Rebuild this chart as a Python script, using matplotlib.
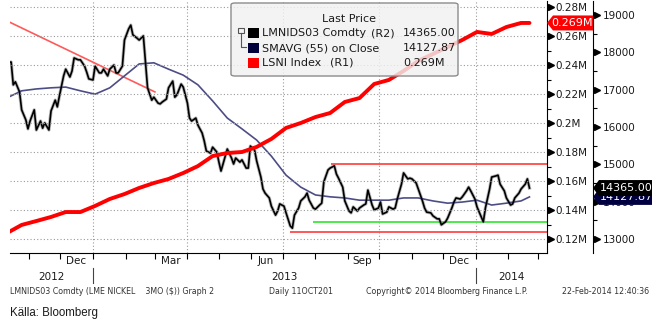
import numpy as np
import pandas as pd
import matplotlib
matplotlib.use("Agg")
import matplotlib.pyplot as plt
import matplotlib.dates as mdates
import matplotlib.transforms as mtrans
from matplotlib.ticker import MultipleLocator
from matplotlib.patches import FancyBboxPatch, Rectangle, Polygon
from matplotlib.lines import Line2D

# ---------------- data ----------------
price_start = "2012-10-11"          # daily series, sampled every 2 business days
price = [17740, 17740, 17130, 17210, 16940, 16460, 16190, 15950, 16160, 16460,
         15920, 16160, 15970, 16110, 15920, 16430, 16720, 16540, 16830, 17370,
         17550, 17340, 17500, 17850, 17800, 17800, 17630, 17470, 17290, 17260,
         17630, 17450, 17450, 17550, 17370, 17550, 17660, 17450, 17450, 17630,
         18330, 18630, 18730, 18470, 18380, 18330, 18440, 17740, 17050, 16720,
         16800, 16640, 16620, 16670, 16750, 17050, 17230, 16800, 16860, 17150,
         17070, 16640, 16240, 16160, 16240, 16050, 15840, 15630, 15360, 15300,
         15460, 15330, 15060, 14820, 15220, 15410, 15170, 15010, 15170, 15060,
         15120, 14900, 14900, 15490, 15380, 15090, 14660, 14340, 14230, 14100,
         13880, 13640, 13750, 13940, 13880, 13700, 13350, 13290, 13640, 13830,
         14020, 14130, 14230, 14040, 13830, 13800, 13910, 13960, 14530, 14850,
         14900, 14960, 14740, 14630, 14390, 14020, 13750, 13700, 13860, 13750,
         13830, 13910, 13940, 14310, 13910, 13780, 13830, 13990, 13670, 13720,
         13860, 13800, 13830, 14070, 14470, 14770, 14610, 14630, 14610, 14500,
         14340, 14020, 13830, 13720, 13700, 13620, 13540, 13540, 13380, 13460,
         13560, 13830, 13990, 14100, 14070, 14130, 14290, 14390, 14290, 14070,
         13860, 13590, 13460, 13830, 14340, 14660, 14690, 14710, 14470, 14290,
         14100, 13910, 13940, 14100, 14230, 14340, 14470, 14610, 14365.00]

# SMAVG(55) and LSNI stocks, sampled every 10 business days + last day
sma = [16780, 16970, 17020, 17050, 17070, 16970, 16880, 17050, 17370, 17690,
       17720, 17550, 17390, 17130, 16700, 16240, 15950, 15650, 15220, 14710,
       14390, 14180, 14130, 14100, 14040, 14040, 14040, 14100, 14100, 14020,
       13960, 13990, 14040, 13910, 13960, 14020, 14127.87]
lsni = [124100, 129700, 132400, 135200, 138600, 138600, 142800, 147600, 151000, 155200,
        158600, 161400, 165500, 170300, 177200, 179300, 180000, 183500, 189000, 196600,
        200000, 204100, 206900, 214500, 217200, 226900, 229700, 235900, 242800, 247600,
        252400, 257300, 262800, 261400, 266200, 269000, 269000]

trend_dates = ["2012-10-12", "2013-03-01"]
trend_vals = [18830, 16940]
hline_upper = ("2013-08-16", 15020)
hline_green = ("2013-07-30", 13450)
hline_lower = ("2013-07-08", 13200)

r2_ticks = [13000, 14000, 15000, 16000, 17000, 18000, 19000]
r1_ticks = [120000, 140000, 160000, 180000, 200000, 220000, 240000, 260000, 280000]
month_labels = ["Dec", "Mar", "Jun", "Sep", "Dec"]
month_label_dates = ["2012-12-16", "2013-03-16", "2013-06-15", "2013-09-15", "2013-12-16"]
quarter_dates = ["2013-01-01", "2013-04-01", "2013-07-01", "2013-10-01", "2014-01-01"]
year_labels = ["2012", "2013", "2014"]

dates = pd.bdate_range(price_start, periods=len(price), freq="2B")
sub_dates = list(dates[::5]) + [dates[-1]]

# ---------------- layout ----------------
W, H = 658, 324
fig = plt.figure(figsize=(W / 100, H / 100), dpi=100)
fig.patch.set_facecolor("white")


def fx(px):
    return px / W


def fy(py):
    return 1 - py / H


AX_L, AX_R, AX_T, AX_B = 10, 547, 1, 253
ax = fig.add_axes([fx(AX_L), fy(AX_B), fx(AX_R) - fx(AX_L), fy(AX_T) - fy(AX_B)])
axl = ax.twinx()

base = mdates.date2num(pd.Timestamp("2013-01-01"))
GRID_C = "#9a9a9a"
DOT = (0, (1, 2))

# price axis (R2)
ax.plot(dates, price, color="#808080", lw=2.4, alpha=0.55, zorder=3)
ax.plot(dates, price, color="black", lw=1.2, zorder=4)
ax.plot(sub_dates, sma, color="#4d4d86", lw=1.2, zorder=3)
ax.plot(pd.to_datetime(trend_dates), trend_vals, color="#ff5a5a", lw=1.2, zorder=2)
xend = pd.Timestamp("2014-03-12")
for (d0, v), c in [(hline_upper, "#ff4a4a"), (hline_green, "#3ee83e"), (hline_lower, "#ff4a4a")]:
    ax.hlines(v, pd.Timestamp(d0), xend, color=c, lw=1.3, zorder=2)

ax.set_xlim(base - 79.1, base + 432.7)
ax.set_ylim(12625, 19376)
for d in quarter_dates:
    ax.axvline(pd.Timestamp(d), color=GRID_C, lw=0.8, ls=DOT, zorder=1)

# LSNI axis (R1)
axl.plot(sub_dates, lsni, color="#ff0000", lw=2.8, solid_capstyle="round", zorder=5)
axl.set_ylim(110345, 284138)
axl.set_yticks(r1_ticks)
axl.set_yticklabels([f"{v / 1e6:g}M" for v in r1_ticks])
axl.yaxis.set_minor_locator(MultipleLocator(10000))
axl.grid(axis="y", which="major", color=GRID_C, lw=0.8, ls=DOT)
axl.tick_params(axis="y", which="major", length=0, pad=5.8, labelsize=7.5, colors="#1a1a1a")
axl.tick_params(axis="y", which="minor", length=3, width=0.8, colors="black")
for s in ["left", "top", "bottom"]:
    axl.spines[s].set_visible(False)
axl.spines["right"].set_color("black")

# R2 axis spine further right
ax.yaxis.tick_right()
r2_pos = (593 - AX_L) / (AX_R - AX_L)
for s in ["left", "top"]:
    ax.spines[s].set_visible(False)
ax.spines["right"].set_position(("axes", r2_pos))
ax.spines["right"].set_color("black")
ax.set_yticks(r2_ticks)
ax.set_yticklabels([str(v) for v in r2_ticks])
ax.yaxis.set_minor_locator(MultipleLocator(500))
ax.tick_params(axis="y", which="major", length=0, pad=7.2, labelsize=7.5, colors="#1a1a1a")
ax.tick_params(axis="y", which="minor", length=3, width=0.8)

# x axis: month ticks, mid-month labels
ax.set_xticks(pd.date_range("2012-11-01", "2014-03-01", freq="MS"))
ax.set_xticklabels([])
ax.set_xticks(mdates.date2num(pd.to_datetime(month_label_dates)), labels=month_labels, minor=True)
ax.tick_params(axis="x", which="major", length=4, width=0.8, direction="out")
ax.tick_params(axis="x", which="minor", length=0, pad=2.5, labelsize=7.5, colors="#1a1a1a")

# triangle tick markers
tri_l = mtrans.blended_transform_factory(axl.transAxes, axl.transData) + \
    mtrans.ScaledTranslation(3.5 / 100, 0, fig.dpi_scale_trans)
axl.plot(np.ones(len(r1_ticks)), r1_ticks, ls="none", marker=">", ms=4.2, color="black",
         transform=tri_l, clip_on=False)
tri_r = mtrans.blended_transform_factory(ax.transAxes, ax.transData) + \
    mtrans.ScaledTranslation(4 / 100, 0, fig.dpi_scale_trans)
ax.plot(np.full(len(r2_ticks), r2_pos), r2_ticks, ls="none", marker=">", ms=4.2, color="black",
        transform=tri_r, clip_on=False)


# year labels and separators
def ay(py):
    return (AX_B - py) / (AX_B - AX_T)


xb = mtrans.blended_transform_factory(ax.transData, ax.transAxes)
x0, x1 = ax.get_xlim()
j13 = mdates.date2num(pd.Timestamp("2013-01-01"))
j14 = mdates.date2num(pd.Timestamp("2014-01-01"))
for lab, xc in zip(year_labels, [(x0 + j13) / 2, (j13 + j14) / 2, (j14 + x1) / 2]):
    ax.text(xc, ay(277), lab, transform=xb, ha="center", va="center", fontsize=7.5, color="#1a1a1a")
for xs in [j13, j14]:
    ax.add_line(Line2D([xs, xs], [ay(268), ay(283)], transform=xb, color="#444444", lw=0.8,
                       clip_on=False))

# value tags on the right
fig.canvas.draw()


def tag(val, axis, tip_px, body_l, body_r, half, color, text, text_x, z):
    yd = axis.transData.transform((0, val))[1]
    yc = H - yd  # top-based pixel
    pts = [(tip_px, yc), (body_l, yc - half), (body_r, yc - half), (body_r, yc + half), (body_l, yc + half)]
    fig.add_artist(Polygon([(fx(a), fy(b)) for a, b in pts], closed=True, transform=fig.transFigure,
                           fc=color, ec="none", zorder=z))
    t = fig.text(fx(text_x), fy(yc), text, ha="center", va="center", fontsize=8, color="white",
                 zorder=z + 0.5)
    return yc, t


tag(lsni[-1], axl, 547, 553, 593, 7.5, "#ff0000", f"{lsni[-1] / 1e6:.3f}M", 572, 5)
_, t_sma = tag(sma[-1], ax, 593, 599, 652, 8, "#000040", f"{sma[-1]:.2f}", 626, 5)
yc_p, _ = tag(price[-1], ax, 593, 599, 652, 8, "#000000", f"{price[-1]:.2f}", 626, 7)
# the SMA tag sits behind the price tag: only its lower part shows
t_sma.set_clip_on(True)
t_sma.set_clip_box(mtrans.Bbox.from_extents(0, 0, W, H - (yc_p + 8)))

# legend box (semi-transparent, as in the terminal)
fig.add_artist(FancyBboxPatch((fx(231), fy(76)), fx(458) - fx(231), fy(3) - fy(76),
                              boxstyle="round,pad=0,rounding_size=0.006", transform=fig.transFigure,
                              fc=(0.945, 0.945, 0.945, 0.82), ec="#8c8c8c", lw=1.0, zorder=3))
fig.text(fx(349), fy(19), "Last Price", ha="center", va="center", fontsize=8, color="#1a1a1a", zorder=4)
rows = [(33.3, "#000000", "LMNIDS03 Comdty", "(R2)", 371, f"{price[-1]:.2f}"),
        (48.3, "#00003a", "SMAVG (55) on Close", "", 0, f"{sma[-1]:.2f}"),
        (62.7, "#ff0000", "LSNI Index", "(R1)", 330, f"{lsni[-1] / 1e6:.3f}M")]
for yrow, col, lab, side, sx, val in rows:
    fig.add_artist(Rectangle((fx(248), fy(yrow + 5)), fx(11), 10 / H, transform=fig.transFigure,
                             fc=col, ec="none", zorder=4))
    fig.text(fx(262), fy(yrow), lab, ha="left", va="center", fontsize=8, color="#1a1a1a", zorder=4)
    if side:
        fig.text(fx(sx), fy(yrow), side, ha="left", va="center", fontsize=8, color="#1a1a1a", zorder=4)
    fig.text(fx(403), fy(yrow), val, ha="left", va="center", fontsize=8, color="#1a1a1a", zorder=4)
fig.add_artist(Rectangle((fx(238), fy(33)), fx(6), 5 / H, transform=fig.transFigure,
                         fc="none", ec="#555555", lw=0.8, zorder=4))
fig.add_artist(Line2D([fx(241), fx(241), fx(246)], [fy(33), fy(47), fy(47)], transform=fig.transFigure,
                      color="#555555", lw=0.8, zorder=4))

# footer
foot = dict(va="center", fontsize=5.65, color="#333333")
fig.text(fx(10), fy(292), "LMNIDS03 Comdty (LME NICKEL    3MO ($)) Graph 2", ha="left", **foot)
fig.text(fx(269), fy(292), "Daily 11OCT201", ha="left", **foot)
fig.text(fx(366), fy(292), "Copyright\u00a9 2014 Bloomberg Finance L.P.", ha="left", **foot)
fig.text(fx(562), fy(292), "22-Feb-2014 12:40:36", ha="left", **foot)
fig.text(fx(10), fy(313), "Källa: Bloomberg", ha="left", va="center", fontsize=8.3,
         family="Liberation Sans", color="#1a1a1a")

fig.savefig("out.png", dpi=100)
